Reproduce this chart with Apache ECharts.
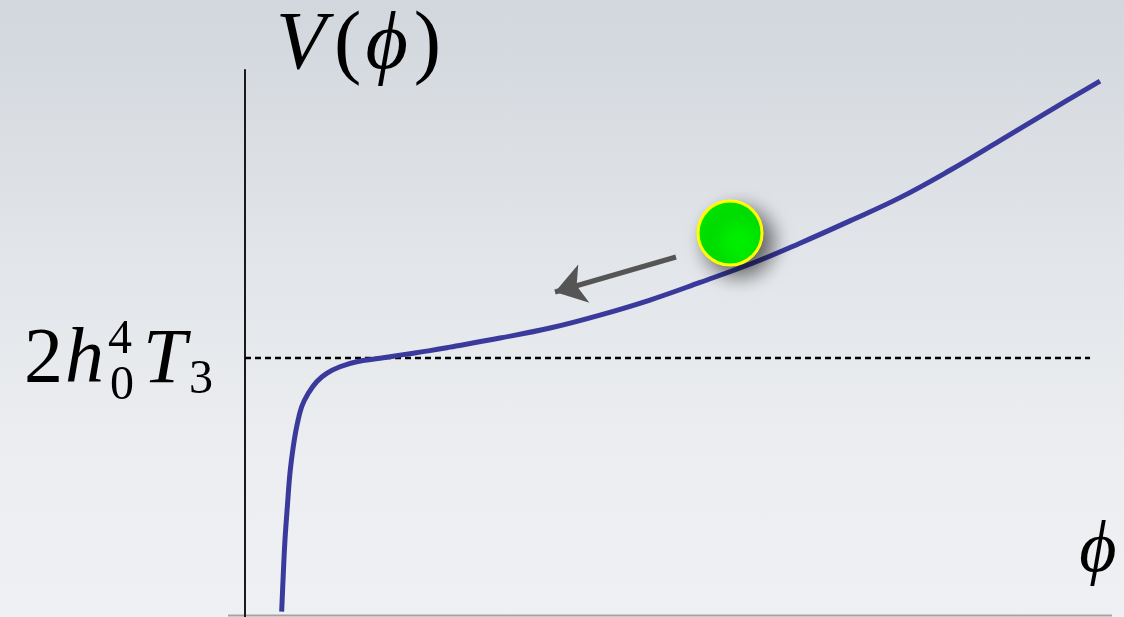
<!DOCTYPE html>
<html>
<head>
<meta charset="utf-8">
<script src="https://cdn.jsdelivr.net/npm/echarts@6/dist/echarts.min.js"></script>
<style>
  html, body { margin: 0; padding: 0; }
  #chart { width: 1124px; height: 617px;
    background: linear-gradient(to bottom, #d2d7dd 0%, #e3e6ea 45%, #eceef1 75%, #eef0f3 100%); }
</style>
</head>
<body>
<div id="chart"></div>
<script>
// Potential V(phi): steep wall near phi = 0, then a slowly rising slope
const phiValues = [
  0.420, 0.439, 0.458, 0.485, 0.515, 0.553, 0.592, 0.649, 0.725, 0.821,
  0.936, 1.088, 1.279, 1.546, 1.813, 2.119, 2.348, 2.921, 3.494, 4.066,
  4.639, 5.212, 5.819, 6.357, 6.930, 7.503, 8.076, 8.648, 9.221, 9.794
];
const potentialValues = [
  0.058, 0.479, 0.845, 1.210, 1.576, 1.868, 2.087, 2.306, 2.454, 2.581,
  2.673, 2.745, 2.800, 2.838, 2.878, 2.922, 2.960, 3.060, 3.170, 3.312,
  3.477, 3.670, 3.883, 4.100, 4.345, 4.600, 4.900, 5.225, 5.555, 5.879
];

// Plateau level 2 h0^4 T3 and its horizontal extent
const plateauLevel = 2.841;
const plateauRange = [0, 9.68];

// Rolling field value (the ball) and the direction it rolls
const ballPoint = [5.556, 4.212];
const arrowFrom = [4.937, 3.949];
const arrowTo = [3.551, 3.565];

const curve = phiValues.map((p, i) => [p, potentialValues[i]]);

const chart = echarts.init(document.getElementById('chart'), null, { renderer: 'canvas' });

const serif = '"Liberation Serif", "DejaVu Serif", serif';

chart.setOption({
  backgroundColor: 'transparent',
  animation: false,
  grid: { left: 245, right: 6, top: 70, bottom: 0 },
  xAxis: {
    type: 'value', min: 0, max: 10,
    axisLine: { show: false }, axisTick: { show: false },
    axisLabel: { show: false }, splitLine: { show: false }
  },
  yAxis: {
    type: 'value', min: 0, max: 6,
    axisLine: { show: true, onZero: false, lineStyle: { color: '#1a1a1a', width: 2 } },
    axisTick: { show: false }, axisLabel: { show: false }, splitLine: { show: false }
  },
  series: [
    {
      type: 'line',
      data: plateauRange.map(x => [x, plateauLevel]),
      symbol: 'none',
      lineStyle: { color: '#000', width: 2.5, type: [6, 4] },
      z: 1
    },
    {
      type: 'line',
      data: curve,
      symbol: 'none',
      smooth: 0.4,
      lineStyle: { color: '#3a3a9c', width: 5, cap: 'butt', join: 'round' },
      z: 2
    },
    {
      type: 'lines',
      coordinateSystem: 'cartesian2d',
      data: [{ coords: [arrowFrom, arrowTo] }],
      symbol: ['none', 'arrow'],
      symbolSize: [26, 30],
      lineStyle: { color: '#555555', width: 5, opacity: 1 },
      z: 3
    },
    {
      type: 'scatter',
      data: [ballPoint],
      symbol: 'circle',
      symbolSize: 64,
      itemStyle: {
        color: '#00ee00',
        opacity: 1,
        borderColor: '#ffff00',
        borderWidth: 3,
        shadowBlur: 20,
        shadowColor: 'rgba(0,0,0,0.6)',
        shadowOffsetX: 9,
        shadowOffsetY: 9
      },
      z: 4
    }
  ],
  graphic: [
    // bottom frame edge
    { type: 'line', shape: { x1: 228, y1: 615.5, x2: 1112, y2: 615.5 },
      style: { stroke: '#a3a3a3', lineWidth: 2 }, z: 0 },
    // vertical axis title V(ϕ)
    { type: 'text', x: 276, y: 46,
      style: {
        text: '{v|V}{r|(}{i|ϕ}{c|)}',
        textVerticalAlign: 'middle', fill: '#000',
        rich: {
          v: { font: 'italic 82px ' + serif, fill: '#000', padding: [0, 8, 0, 0] },
          i: { font: 'italic 82px ' + serif, fill: '#000', padding: [0, 2, 0, 4] },
          r: { font: '82px ' + serif, fill: '#000' },
          c: { font: '82px ' + serif, fill: '#000', padding: [0, 0, 0, 4] }
        }
      } },
    // plateau label 2 h0^4 T3
    { type: 'text', x: 24, y: 361,
      style: { text: '2', font: '78px ' + serif, fill: '#000', textVerticalAlign: 'middle' } },
    { type: 'text', x: 65, y: 361,
      style: { text: 'h', font: 'italic 78px ' + serif, fill: '#000', textVerticalAlign: 'middle' } },
    { type: 'text', x: 108, y: 340,
      style: { text: '4', font: '48px ' + serif, fill: '#000', textVerticalAlign: 'middle' } },
    { type: 'text', x: 110, y: 386,
      style: { text: '0', font: '48px ' + serif, fill: '#000', textVerticalAlign: 'middle' } },
    { type: 'text', x: 143, y: 361,
      style: { text: 'T', font: 'italic 78px ' + serif, fill: '#000', textVerticalAlign: 'middle' } },
    { type: 'text', x: 189, y: 380,
      style: { text: '3', font: '48px ' + serif, fill: '#000', textVerticalAlign: 'middle' } },
    // horizontal axis title ϕ
    { type: 'text', x: 1098, y: 552,
      style: { text: 'ϕ', font: 'italic 72px ' + serif, fill: '#000',
        textAlign: 'center', textVerticalAlign: 'middle' } }
  ]
});
</script>
</body>
</html>
